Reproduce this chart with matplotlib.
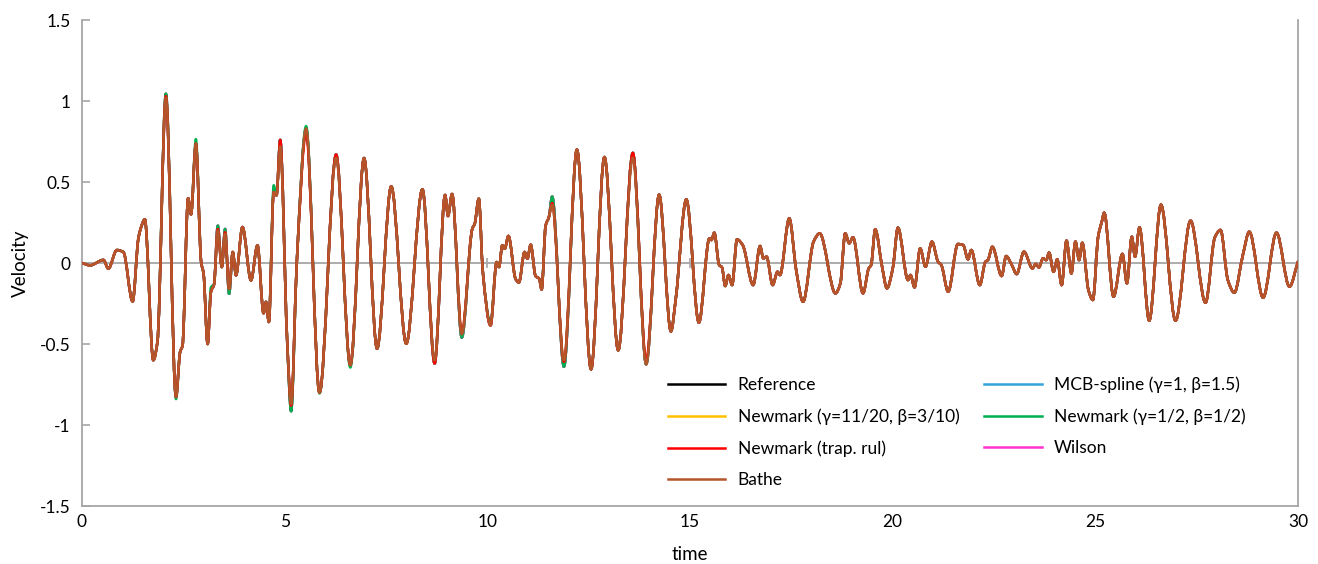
import matplotlib
matplotlib.use("Agg")
import matplotlib.pyplot as plt
from matplotlib.path import Path
from matplotlib.patches import PathPatch
from matplotlib.lines import Line2D

plt.rcParams['font.family'] = ['Lato', 'DejaVu Sans']

time = [0.0, 0.20, 0.53, 0.65, 0.86, 1.02, 1.25, 1.39, 1.46, 1.55, 1.76, 1.86,
        2.07, 2.32, 2.42, 2.48, 2.62, 2.69, 2.81, 2.94, 3.00, 3.10, 3.18, 3.26,
        3.35, 3.45, 3.53, 3.63, 3.72, 3.80, 3.96, 4.17, 4.33, 4.48, 4.54, 4.61,
        4.73, 4.80, 4.89, 5.06, 5.16, 5.30, 5.53, 5.86, 6.27, 6.62, 6.96, 7.28,
        7.63, 8.00, 8.40, 8.70, 8.96, 9.03, 9.13, 9.37, 9.63, 9.69, 9.79, 9.89,
        10.08, 10.23, 10.29, 10.37, 10.43, 10.52, 10.70, 10.78, 10.92, 10.99,
        11.07, 11.19, 11.28, 11.34, 11.44, 11.52, 11.60, 11.89, 12.21, 12.56,
        12.89, 13.23, 13.59, 13.92, 14.24, 14.53, 14.65, 14.91, 15.22, 15.48,
        15.53, 15.60, 15.72, 15.79, 15.87, 15.95, 16.04, 16.16, 16.30, 16.56,
        16.73, 16.81, 16.89, 17.04, 17.16, 17.22, 17.45, 17.62, 17.79, 18.05,
        18.20, 18.59, 18.71, 18.83, 18.93, 19.02, 19.27, 19.41, 19.47, 19.57,
        19.74, 19.86, 20.01, 20.13, 20.38, 20.44, 20.54, 20.68, 20.81, 20.97,
        21.12, 21.20, 21.37, 21.61, 21.74, 21.86, 21.94, 22.15, 22.29, 22.35,
        22.46, 22.69, 22.80, 22.94, 23.06, 23.24, 23.45, 23.53, 23.61, 23.71,
        23.79, 23.86, 23.97, 24.06, 24.17, 24.29, 24.41, 24.51, 24.60, 24.68,
        24.83, 24.94, 25.07, 25.16, 25.22, 25.45, 25.67, 25.78, 25.90, 25.98,
        26.09, 26.33, 26.62, 26.98, 27.35, 27.72, 27.95, 28.09, 28.27, 28.43,
        28.64, 28.80, 29.14, 29.47, 29.79, 30.0]
reference = [0.0, -0.014, 0.019, -0.035, 0.08, 0.068, -0.237, 0.15, 0.222, 0.27, -0.60, -0.49,
             1.045, -0.827, -0.55, -0.51, 0.40, 0.30, 0.737, 0.006, -0.066, -0.50, -0.18, -0.13,
             0.23, -0.025, 0.21, -0.19, 0.068, -0.076, 0.222, -0.107, 0.109, -0.31, -0.24, -0.364,
             0.438, 0.418, 0.76, -0.467, -0.915, 0.006, 0.83, -0.80, 0.67, -0.63, 0.648, -0.529,
             0.473, -0.498, 0.455, -0.62, 0.42, 0.29, 0.426, -0.46, 0.212, 0.243, 0.397, -0.056,
             -0.385, 0.006, -0.025, 0.109, 0.088, 0.167, -0.10, -0.12, 0.068, 0.027,
             0.113, -0.08, -0.097, -0.163, 0.232, 0.284, 0.41, -0.64, 0.70, -0.656,
             0.654, -0.539, 0.68, -0.625, 0.422, -0.422, -0.22, 0.393, -0.368, 0.152,
             0.142, 0.187, -0.012, -0.027, -0.142, -0.074, -0.136, 0.146, 0.111, -0.136,
             0.105, 0.029, 0.039, -0.136, -0.054, -0.074, 0.276, -0.043, -0.239, 0.132,
             0.183, -0.187, -0.125, 0.183, 0.122, 0.159, -0.187, -0.033, -0.012, 0.208,
             -0.023, -0.156, -0.023, 0.218, -0.105, -0.074, -0.15, 0.09, -0.023, 0.132,
             0.008, -0.012, -0.177, 0.117, 0.111, 0.023, 0.08, -0.136, 0.008, 0.018,
             0.10, -0.08, 0.043, -0.012, -0.068, 0.07, -0.033, -0.006, -0.027, 0.029,
             0.018, 0.064, -0.054, 0.023, -0.136, 0.138, -0.064, 0.132, 0.018, 0.125,
             -0.167, -0.228, 0.162, 0.255, 0.31, -0.208, 0.056, -0.125, 0.162, 0.039,
             0.22, -0.356, 0.36, -0.356, 0.261, -0.245, 0.159, 0.204, -0.105, -0.183,
             0.049, 0.193, -0.214, 0.187, -0.146, 0.008]

# values where the other schemes visibly depart from the reference
newmark_11_20_diff = {2.07: 1.03, 5.16: -0.89, 4.89: 0.74}
trap_rule_diff = {2.07: 1.03, 5.16: -0.88, 5.53: 0.80, 3.53: 0.19, 3.63: -0.16,
                  9.37: -0.43, 11.60: 0.37, 11.89: -0.61, 13.92: -0.60, 3.35: 0.21}
bathe_diff = {2.07: 1.02, 5.16: -0.87, 4.89: 0.72, 3.35: 0.20, 3.53: 0.18, 3.63: -0.16,
              11.60: 0.36, 11.89: -0.60, 9.37: -0.44, 13.59: 0.65, 6.27: 0.65, 8.70: -0.60}
mcb_spline_diff = {2.07: 1.03, 5.16: -0.89}
newmark_half_diff = {2.81: 0.765, 2.32: -0.84, 5.53: 0.845, 5.86: -0.805, 4.73: 0.48,
                     10.08: -0.37, 6.62: -0.645, 3.18: -0.15}
wilson_diff = {2.07: 1.02, 5.16: -0.88}

labels = ['Reference', 'Newmark (γ=11/20, β=3/10)', 'Newmark (trap. rul)', 'Bathe',
          'MCB-spline (γ=1, β=1.5)', 'Newmark (γ=1/2, β=1/2)', 'Wilson']
colors = ['black', '#FFC000', '#FF0000', '#B5562A', '#35A3DC', '#00B050', '#FF33CC']
diffs = [{}, newmark_11_20_diff, trap_rule_diff, bathe_diff, mcb_spline_diff,
         newmark_half_diff, wilson_diff]
zorders = [2, 3, 5, 6, 3, 4, 3]


def series(diff):
    return [diff.get(t, v) for t, v in zip(time, reference)]


def smooth_path(x, y):
    # smooth (Excel-like) drawing: cubic Bezier segments, flat at the peaks
    n = len(x)
    h = [x[i + 1] - x[i] for i in range(n - 1)]
    d = [(y[i + 1] - y[i]) / h[i] for i in range(n - 1)]
    m = [0.0] * n
    m[0], m[-1] = d[0], d[-1]
    for i in range(1, n - 1):
        if d[i - 1] * d[i] > 0:
            w1 = 2 * h[i] + h[i - 1]
            w2 = h[i] + 2 * h[i - 1]
            m[i] = (w1 + w2) / (w1 / d[i - 1] + w2 / d[i])
    verts = [(x[0], y[0])]
    codes = [Path.MOVETO]
    for i in range(n - 1):
        verts += [(x[i] + h[i] / 3, y[i] + m[i] * h[i] / 3),
                  (x[i + 1] - h[i] / 3, y[i + 1] - m[i + 1] * h[i] / 3),
                  (x[i + 1], y[i + 1])]
        codes += [Path.CURVE4] * 3
    return Path(verts, codes)


fig = plt.figure(figsize=(13.18, 5.64), dpi=100)
ax = fig.add_axes([0.0622, 0.1028, 0.9226, 0.8617])

ax.axhline(0, color='#a6a6a6', lw=1.3, zorder=0)
ax.plot([5, 10, 15, 20, 25], [0] * 5, ls='none', marker='|', ms=7, mew=1.2,
        color='#a6a6a6', zorder=0)

handles = []
for lab, col, diff, z in zip(labels, colors, diffs, zorders):
    ax.add_patch(PathPatch(smooth_path(time, series(diff)), fill=False,
                           edgecolor=col, lw=1.8, zorder=z, capstyle='round',
                           joinstyle='round'))
    handles.append(Line2D([], [], color=col, lw=1.8, label=lab))

ax.set_xlim(0, 30)
ax.set_ylim(-1.5, 1.5)
ax.set_xticks([0, 5, 10, 15, 20, 25, 30])
ax.set_yticks([-1.5, -1, -0.5, 0, 0.5, 1, 1.5])
ax.set_yticklabels(['-1.5', '-1', '-0.5', '0', '0.5', '1', '1.5'])
ax.tick_params(axis='both', labelsize=12.5, colors='#a6a6a6', labelcolor='black')
ax.tick_params(axis='x', length=0, pad=6)
ax.tick_params(axis='y', direction='in', length=6, width=1.2, pad=8)

for side in ['left', 'bottom', 'right']:
    ax.spines[side].set_color('#a6a6a6')
    ax.spines[side].set_linewidth(1.3)
ax.spines['top'].set_visible(False)

ax.set_xlabel('time', fontsize=13.5, labelpad=11)
ax.set_ylabel('Velocity', fontsize=13.5, labelpad=8)

ax.legend(handles=handles, loc='upper left', bbox_to_anchor=(0.482, 0.266), ncol=2,
          frameon=False, fontsize=12.5, handlelength=3.3, handletextpad=0.7,
          columnspacing=1.45, labelspacing=0.87, borderpad=0, borderaxespad=0)

fig.savefig('out.png', dpi=100)
